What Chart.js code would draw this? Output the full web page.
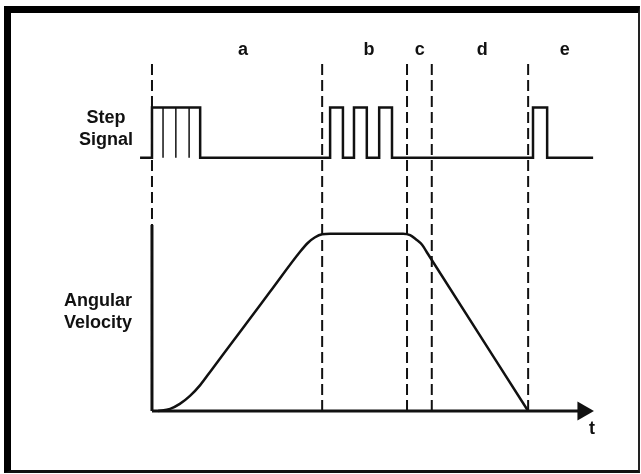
<!DOCTYPE html>
<html>
<head>
<meta charset="utf-8">
<title>Step signal / angular velocity</title>
<script src="https://cdn.jsdelivr.net/npm/chart.js@4.4.1/dist/chart.umd.min.js"></script>
<style>
  html, body { margin: 0; padding: 0; background: #ffffff; }
  body { width: 641px; height: 474px; position: relative; overflow: hidden; }
  #marco {
    position: absolute; left: 4px; top: 6px; width: 636px; height: 467px;
    box-sizing: border-box;
    border-left: 7px solid #000; border-top: 7px solid #000;
    border-right: 2px solid #222; border-bottom: 3px solid #111;
  }
  #grafico { position: absolute; left: 0; top: 0; }
</style>
</head>
<body>
<div id="marco"></div>
<canvas id="grafico" width="641" height="474"></canvas>
<script>
// fases del movimiento y donde empiezan (t de 0 a 100)
const fases = ['a', 'b', 'c', 'd', 'e'];
const limitesFases = [0, 38.5, 57.7, 63.3, 85.1];
const posLetras = [20.6, 49.1, 60.6, 74.7, 93.4];

// señal de pasos (escalonada, 0 = bajo, 1 = alto)
const tSenal = [-2.7, 0, 10.9, 40.3, 43.2, 45.7, 48.6, 51.4, 54.3, 86.2, 89.4, 99.8];
const nivelSenal = [0, 1, 0, 1, 0, 1, 0, 1, 0, 1, 0, 0];
// pulsos muy juntos al arrancar
const pulsosJuntos = [2.5, 5.4, 8.4];

// velocidad angular (1 = velocidad maxima)
const tVel = [1.4, 4.1, 6.3, 8.6, 10.9, 13.6, 19.9, 26.7, 33.5, 35.3, 36.9, 38.5, 40.3,
              56.8, 58.4, 59.7, 61.1, 62.4, 85.1];
const velAngular = [0, 0.012, 0.04, 0.085, 0.146, 0.236, 0.446, 0.672, 0.898, 0.949, 0.98, 0.997, 1.0,
                    1.0, 0.992, 0.969, 0.938, 0.887, 0];

const finEjeT = 97.5;
const altoEjeV = 1.05;

// la señal se dibuja encima de la curva de velocidad
const BASE_SENAL = 1.429;
const ALTO_SENAL = 0.283;
const TOPE = 1.98;

const negro = '#111111';

let datasets = [];

// lineas discontinuas entre fases
limitesFases.forEach((t) => {
  datasets.push({
    data: [{x: t, y: 0}, {x: t, y: TOPE}],
    borderColor: negro, borderWidth: 2, borderDash: [11, 5],
    pointRadius: 0, clip: false
  });
});

// ejes: vertical solido y horizontal con flecha
datasets.push({
  data: [{x: 0, y: 0}, {x: 0, y: altoEjeV}],
  borderColor: negro, borderWidth: 3, pointRadius: 0, clip: false
});
datasets.push({
  data: [{x: 0, y: 0}, {x: finEjeT, y: 0}],
  borderColor: negro, borderWidth: 3, clip: false,
  pointRadius: [0, 11], pointStyle: 'triangle', rotation: 90,
  pointBackgroundColor: negro, pointBorderColor: negro, pointBorderWidth: 0
});

datasets.push({
  data: tSenal.map((t, i) => ({x: t, y: BASE_SENAL + nivelSenal[i] * ALTO_SENAL})),
  stepped: 'before',
  borderColor: negro, borderWidth: 2.5, pointRadius: 0, clip: false
});

pulsosJuntos.forEach((t) => {
  datasets.push({
    data: [{x: t, y: BASE_SENAL}, {x: t, y: BASE_SENAL + ALTO_SENAL}],
    borderColor: negro, borderWidth: 1.5, pointRadius: 0, clip: false
  });
});

datasets.push({
  data: tVel.map((t, i) => ({x: t, y: velAngular[i]})),
  cubicInterpolationMode: 'monotone',
  borderColor: negro, borderWidth: 2.5, pointRadius: 0, clip: false
});

// textos: letras de fase, nombres de las curvas y la t
const textos = {
  id: 'textos',
  afterDraw: (chart) => {
    const ctx = chart.ctx;
    const x = chart.scales.x;
    ctx.save();
    ctx.fillStyle = negro;
    ctx.font = 'bold 18px "Liberation Sans", Arial, sans-serif';
    ctx.textAlign = 'center';
    ctx.textBaseline = 'middle';
    fases.forEach((f, i) => {
      ctx.fillText(f, x.getPixelForValue(posLetras[i]), 50);
    });
    ctx.fillText('Step', 106, 118);
    ctx.fillText('Signal', 106, 140);
    ctx.fillText('Angular', 98, 301);
    ctx.fillText('Velocity', 98, 323);
    ctx.fillText('t', x.getPixelForValue(finEjeT) + 9, 429);
    ctx.restore();
  }
};

const grafico = document.getElementById('grafico');

const chart = new Chart(grafico, {
  type: 'line',
  data: {datasets: datasets},
  options: {
    responsive: false,
    animation: false,
    devicePixelRatio: 1,
    layout: {padding: {left: 134.3, right: 47, top: 60, bottom: 63}},
    plugins: {legend: {display: false}, tooltip: {enabled: false}},
    scales: {
      x: {type: 'linear', min: -4, max: 100, display: false},
      y: {type: 'linear', min: 0, max: TOPE, display: false}
    }
  },
  plugins: [textos]
});
</script>
</body>
</html>
